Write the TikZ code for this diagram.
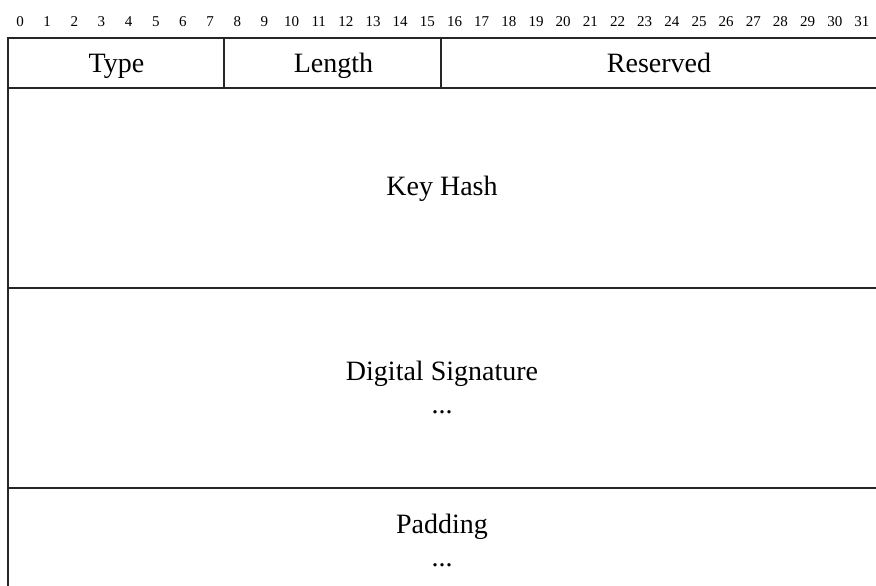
\documentclass[tikz,border=0pt]{standalone}
\usepackage{fontspec}
\setmainfont{Liberation Serif}
\usetikzlibrary{positioning}

\begin{document}
\begin{tikzpicture}[x=0.5pt, y=-0.5pt,
  frame/.style={draw=black!85, line width=0.8pt},
  fieldtext/.style={font=\fontsize{14}{17}\selectfont, inner sep=0pt, anchor=base},
  bitnum/.style={font=\fontsize{7.5}{9}\selectfont, inner sep=0pt, anchor=base}]
  % canvas 876 x 585 px, the packet frame runs off the right and bottom
  \useasboundingbox (0,0) rectangle (876,585);
  \clip (0,0) rectangle (876,585);
  % bit positions, 27.16 px per bit
  \def\bitw{27.16}
  \def\xl{8}
  \def\xr{879}
  \foreach \b in {0,...,31} {
    \node[bitnum] (bit\b) at ({20+\bitw*\b},26) {\b};
  }
  % frame and row lines
  \draw[frame] (\xl,700) -- (\xl,38) -- (\xr,38) -- (\xr,700);
  \foreach \y in {88, 288, 488} {
    \draw[frame] (\xl,\y) -- (\xr,\y);
  }
  % field separators of the first word
  \draw[frame] ({20+7.5*\bitw},38) -- ({20+7.5*\bitw},88);
  \draw[frame] ({20+15.5*\bitw},38) -- ({20+15.5*\bitw},88);
  % labels
  \node[fieldtext] (type) at (116.5,72) {Type};
  \node[fieldtext] (length) at (333.5,72) {Length};
  \node[fieldtext] (reserved) at (659,72) {Reserved};
  \node[fieldtext] (keyhash) at (442,195) {Key Hash};
  \node[fieldtext] (digsig) at (442,380) {Digital Signature};
  \node[fieldtext] (digsigdots) at (442,413) {...};
  \node[fieldtext] (padding) at (442,533) {Padding};
  \node[fieldtext] (paddots) at (442,566) {...};
\end{tikzpicture}
\end{document}
